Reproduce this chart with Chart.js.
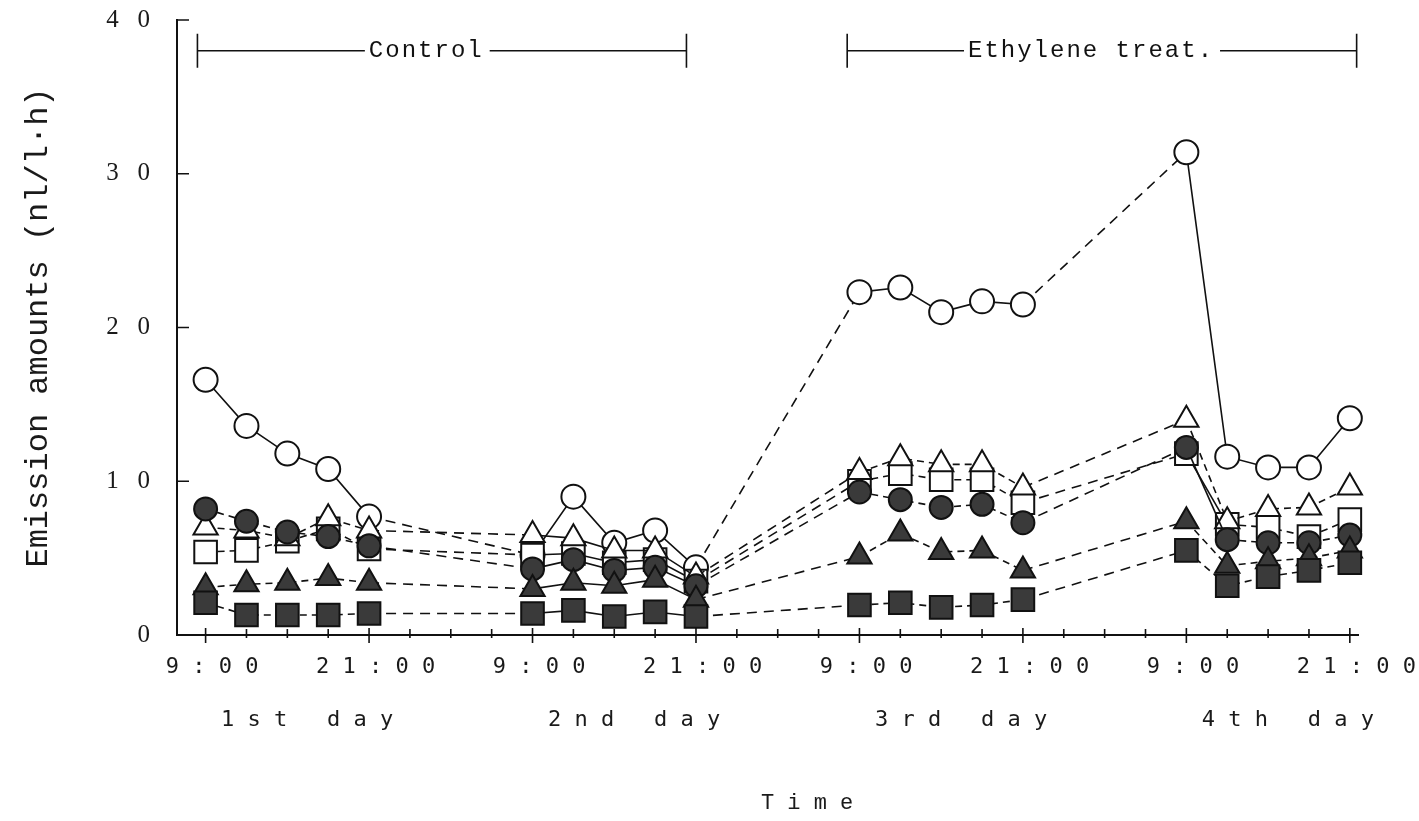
<!DOCTYPE html>
<html>
<head>
<meta charset="utf-8">
<title>Emission amounts</title>
<script src="https://cdn.jsdelivr.net/npm/chart.js@4.4.0/dist/chart.umd.min.js"></script>
<style>
  html, body { margin: 0; padding: 0; background: #fff; }
  canvas { display: block; }
</style>
</head>
<body>
<canvas id="emissionChart" width="1419" height="821"></canvas>
<script>
// sampling times, in hours counted from midnight of the 1st day
const hours = [9, 12, 15, 18, 21, 33, 36, 39, 42, 45, 57, 60, 63, 66, 69, 81, 84, 87, 90, 93];

// emission amounts (nl/l·h), one list per marker
const openCircle     = [16.6, 13.6, 11.8, 10.8, 7.7, 5.2, 9.0, 6.0, 6.8, 4.4, 22.3, 22.6, 21.0, 21.7, 21.5, 31.4, 11.6, 10.9, 10.9, 14.1];
const filledCircle   = [8.2, 7.4, 6.7, 6.4, 5.8, 4.3, 4.9, 4.2, 4.4, 3.2, 9.3, 8.8, 8.3, 8.5, 7.3, 12.2, 6.2, 6.0, 6.0, 6.5];
const openTriangle   = [7.0, 6.8, 6.3, 7.6, 6.8, 6.5, 6.3, 5.5, 5.5, 3.8, 10.6, 11.5, 11.1, 11.1, 9.6, 14.0, 7.4, 8.2, 8.3, 9.6];
const openSquare     = [5.4, 5.5, 6.1, 6.9, 5.6, 5.2, 5.3, 4.7, 4.9, 3.5, 10.0, 10.5, 10.1, 10.1, 8.6, 11.8, 7.2, 7.0, 6.4, 7.5];
const filledTriangle = [3.1, 3.3, 3.4, 3.7, 3.4, 3.0, 3.4, 3.2, 3.6, 2.3, 5.1, 6.6, 5.4, 5.5, 4.2, 7.4, 4.5, 4.8, 5.0, 5.5];
const filledSquare   = [2.1, 1.3, 1.3, 1.3, 1.4, 1.4, 1.6, 1.2, 1.5, 1.2, 1.95, 2.1, 1.8, 1.95, 2.3, 5.5, 3.2, 3.8, 4.2, 4.7];

// axis labels
const yTickValues = [0, 10, 20, 30, 40];
const timeTickHours = [9, 21, 33, 45, 57, 69, 81, 93];
const timeTickLabels = ["9:00", "21:00", "9:00", "21:00", "9:00", "21:00", "9:00", "21:00"];
const dayLabelHours = [15, 39, 63, 87];
const dayLabels = ["1st day", "2nd day", "3rd day", "4th day"];

// treatment periods drawn as brackets above the curves
const bracketLabels = ["Control", "Ethylene treat."];
const bracketStart = [8.4, 56.1];
const bracketEnd = [44.3, 93.5];
const bracketTextAt = [25.2, 74.0];
const bracketLevel = 38;

const INK = "#111";
const FILL = "#3a3a3a";

const spaced = (s) => s.split("").join(" ");
const dayOf = (h) => Math.floor(h / 24);

// dashed between days; solid or short dashes inside a day
function dashFor(solidInside, solidFirstOfLastDay) {
  return (ctx) => {
    const h0 = hours[ctx.p0DataIndex];
    const h1 = hours[ctx.p1DataIndex];
    if (dayOf(h0) !== dayOf(h1)) return [10, 7];
    if (solidInside || dayOf(h0) === 1) return [];
    if (solidFirstOfLastDay && h0 === 81) return [];
    return [7, 5];
  };
}

function series(label, data, style, radius, filled, order, solidInside, solidFirst) {
  return {
    label,
    data: hours.map((h, i) => ({ x: h, y: data[i] })),
    borderColor: INK,
    borderWidth: 1.6,
    borderDash: [],
    pointStyle: style,
    pointRadius: radius,
    pointBorderWidth: 2,
    pointBorderColor: INK,
    pointBackgroundColor: filled ? FILL : "#fff",
    order,
    clip: false,
    segment: { borderDash: dashFor(solidInside, solidFirst) }
  };
}

const axisTicks = {
  id: "axisTicks",
  afterDraw(chart) {
    const { ctx, scales: { x, y } } = chart;
    const base = y.getPixelForValue(0);
    const left = x.left;
    ctx.save();
    ctx.strokeStyle = INK;
    ctx.lineWidth = 1.6;
    ctx.beginPath();
    for (let h = 9; h <= 93; h += 3) {
      const px = x.getPixelForValue(h);
      const major = (h - 9) % 12 === 0;
      ctx.moveTo(px, base - (major ? 7 : 6));
      ctx.lineTo(px, base + (major ? 8 : 3));
    }
    yTickValues.filter((v) => v > 0).forEach((v) => {
      const py = y.getPixelForValue(v);
      ctx.moveTo(left, py);
      ctx.lineTo(left + 12, py);
    });
    ctx.stroke();
    ctx.restore();
  }
};

const brackets = {
  id: "brackets",
  afterDatasetsDraw(chart) {
    const { ctx, scales: { x, y } } = chart;
    const py = y.getPixelForValue(bracketLevel);
    ctx.save();
    ctx.strokeStyle = INK;
    ctx.fillStyle = INK;
    ctx.lineWidth = 1.6;
    ctx.font = "24px 'Liberation Mono'";
    ctx.letterSpacing = "2px";
    ctx.textAlign = "center";
    ctx.textBaseline = "middle";
    bracketLabels.forEach((label, i) => {
      const x0 = x.getPixelForValue(bracketStart[i]);
      const x1 = x.getPixelForValue(bracketEnd[i]);
      const xt = x.getPixelForValue(bracketTextAt[i]);
      const w = ctx.measureText(label).width;
      ctx.beginPath();
      ctx.moveTo(x0, py - 17);
      ctx.lineTo(x0, py + 17);
      ctx.moveTo(x1, py - 17);
      ctx.lineTo(x1, py + 17);
      ctx.moveTo(x0, py);
      ctx.lineTo(xt - w / 2 - 4, py);
      ctx.moveTo(xt + w / 2 + 6, py);
      ctx.lineTo(x1, py);
      ctx.stroke();
      ctx.fillText(label, xt, py);
    });
    ctx.restore();
  }
};

new Chart(document.getElementById("emissionChart"), {
  type: "line",
  data: {
    datasets: [
      series("open circle", openCircle, "circle", 12, false, 5, true, true),
      series("filled circle", filledCircle, "circle", 11.5, true, 2, false, true),
      series("open triangle", openTriangle, "triangle", 14, false, 3, false, false),
      series("open square", openSquare, "rect", 16, false, 4, false, true),
      series("filled triangle", filledTriangle, "triangle", 14, true, 1, false, false),
      series("filled square", filledSquare, "rect", 16, true, 0, false, false)
    ]
  },
  options: {
    responsive: false,
    animation: false,
    events: [],
    layout: { padding: { left: 0, top: 20, right: 61, bottom: 0 } },
    plugins: { legend: { display: false }, tooltip: { enabled: false } },
    scales: {
      x: {
        type: "linear",
        min: 6.9,
        max: 93.6,
        grid: { display: false, drawTicks: false },
        border: { display: true, color: INK, width: 2 },
        afterBuildTicks(scale) {
          scale.ticks = [...timeTickHours, ...dayLabelHours]
            .sort((a, b) => a - b)
            .map((v) => ({ value: v }));
        },
        afterFit(scale) {
          scale.height = 186;
          scale.paddingLeft = 0;
          scale.paddingRight = 0;
        },
        ticks: {
          autoSkip: false,
          maxRotation: 0,
          padding: 6,
          color: "#1a1a1a",
          font: { family: "'DejaVu Sans Mono'", size: 22, lineHeight: 2.4 },
          callback(value) {
            const t = timeTickHours.indexOf(value);
            if (t >= 0) return " " + spaced(timeTickLabels[t]);
            const d = dayLabelHours.indexOf(value);
            if (d >= 0) return ["", "   " + spaced(dayLabels[d])];
            return "";
          }
        },
        title: {
          display: true,
          text: "      " + spaced("Time"),
          color: "#1a1a1a",
          font: { family: "'Liberation Mono'", size: 22 },
          padding: { bottom: 5 }
        }
      },
      y: {
        min: 0,
        max: 40,
        grid: { display: false, drawTicks: false },
        border: { display: true, color: INK, width: 2 },
        afterBuildTicks(scale) {
          scale.ticks = yTickValues.map((v) => ({ value: v }));
        },
        afterFit(scale) {
          scale.width = 177;
          scale.paddingTop = 0;
          scale.paddingBottom = 0;
        },
        ticks: {
          padding: 27,
          color: "#1a1a1a",
          font: { family: "'Liberation Serif'", size: 25 },
          callback: (v) => String(v).split("").join("   ")
        },
        title: {
          display: true,
          text: "Emission amounts (nl/l·h)",
          color: "#1a1a1a",
          font: { family: "'Liberation Mono'", size: 32 },
          padding: { top: 19 }
        }
      }
    }
  },
  plugins: [axisTicks, brackets]
});
</script>
</body>
</html>
